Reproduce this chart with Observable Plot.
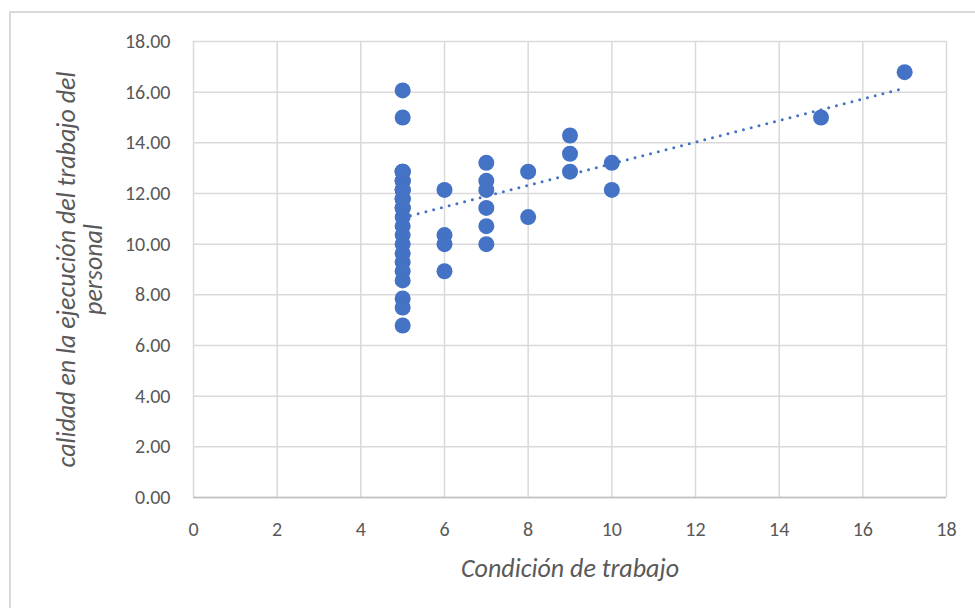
<!DOCTYPE html>
<html>
<head>
<meta charset="utf-8">
<script src="https://cdn.jsdelivr.net/npm/d3@7"></script>
<script src="https://cdn.jsdelivr.net/npm/@observablehq/plot@0.6"></script>
<style>
  html, body { margin: 0; padding: 0; background: #fff; }
  #wrap { position: relative; width: 975px; height: 608px; overflow: hidden; }
  #border { position: absolute; left: 9px; top: 11px; width: 1000px; height: 700px;
            border: 2px solid #d9d9d9; pointer-events: none; box-sizing: border-box; }
</style>
</head>
<body>
<div id="wrap"><div id="border"></div></div>
<script>
// Condición de trabajo (x) and calidad en la ejecución del trabajo del personal (y)
// The x = 5 column is dense; several respondents share (overlapping) scores there.
const condicion = [
  5, 5, 5, 5, 5, 5, 5, 5, 5, 5, 5, 5, 5, 5, 5, 5, 5, 5,
  5, 5, 5, 5, 5, 5, 5, 5, 5, 5,
  6, 6, 6, 6,
  7, 7, 7, 7, 7, 7,
  8, 8,
  9, 9, 9,
  10, 10,
  15,
  17
];
const calidad = [
  16.07, 15.00, 12.86, 12.50, 12.14, 11.79, 11.43, 11.07, 10.71, 10.36, 10.00, 9.64, 9.29, 8.93, 8.57, 7.86, 7.50, 6.79,
  11.43, 11.79, 12.14, 12.50, 12.86, 11.43, 11.79, 12.14, 12.50, 12.86,
  12.14, 10.36, 10.00, 8.93,
  13.21, 12.50, 12.14, 11.43, 10.71, 10.00,
  12.86, 11.07,
  14.29, 13.57, 12.86,
  13.21, 12.14,
  15.00,
  16.79
];
const xTicks = [0, 2, 4, 6, 8, 10, 12, 14, 16, 18];
const yTicks = [0, 2, 4, 6, 8, 10, 12, 14, 16, 18];
const xTitle = "Condición de trabajo";
const yTitle = "calidad en la ejecución del trabajo del\npersonal";

const data = condicion.map((x, i) => ({x, y: calidad[i]}));

const blue = "#4472C4";
const font = "Carlito, Lato, sans-serif";

const chart = Plot.plot({
  width: 975,
  height: 608,
  marginLeft: 193,
  marginRight: 29,
  marginTop: 41,
  marginBottom: 111,
  style: {fontFamily: font, fontSize: "20px", color: "#595959", background: "transparent"},
  x: {domain: [0, 18]},
  y: {domain: [0, 18]},
  marks: [
    Plot.gridX(xTicks, {stroke: "#d9d9d9", strokeOpacity: 1, strokeWidth: 1.5}),
    Plot.gridY(yTicks, {stroke: "#d9d9d9", strokeOpacity: 1, strokeWidth: 1.5}),
    Plot.ruleY([0], {stroke: "#bfbfbf", strokeWidth: 1.5}),
    Plot.axisX(xTicks, {tickSize: 0, tickPadding: 24, fontSize: 20, fill: "#595959", label: null}),
    Plot.axisY(yTicks, {tickSize: 0, tickPadding: 23, fontSize: 20, fill: "#595959", label: null, tickFormat: d3.format(".2f")}),
    Plot.dot(data, {x: "x", y: "y", r: 8, fill: blue}),
    Plot.linearRegressionY(data, {x: "x", y: "y", stroke: blue, strokeWidth: 3, strokeDasharray: "0 8", strokeLinecap: "round", ci: 0}),
    Plot.text([xTitle], {frameAnchor: "bottom", dy: 71, fontSize: 26, fontStyle: "italic", fill: "#595959", lineAnchor: "middle"}),
    Plot.text([yTitle], {frameAnchor: "left", dx: -114, rotate: -90, fontSize: 26, fontStyle: "italic", fill: "#595959", lineAnchor: "middle", lineHeight: 1.05, textAnchor: "middle"})
  ]
});
document.getElementById("wrap").prepend(chart);
</script>
</body>
</html>
